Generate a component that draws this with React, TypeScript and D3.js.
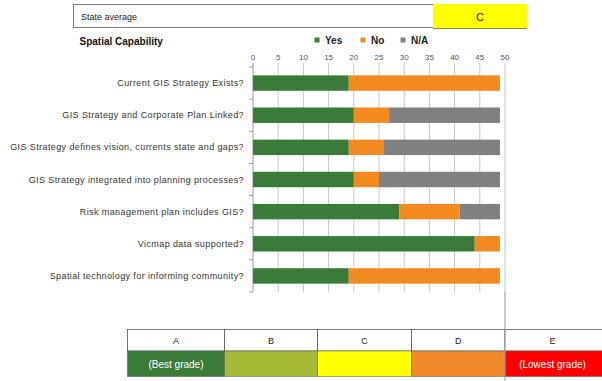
import React from "react";
import * as d3 from "d3";

const categories = [
  "Current GIS Strategy Exists?",
  "GIS Strategy and Corporate Plan Linked?",
  "GIS Strategy defines vision, currents state and gaps?",
  "GIS Strategy integrated into planning processes?",
  "Risk management plan includes GIS?",
  "Vicmap data supported?",
  "Spatial technology for informing community?",
];
const yesValues = [19, 20, 19, 20, 29, 44, 19];
const noValues = [30, 7, 7, 5, 12, 5, 30];
const naValues = [0, 22, 23, 24, 8, 0, 0];
const seriesNames = ["Yes", "No", "N/A"];
const seriesColors = ["#3b7b3a", "#f38a20", "#808080"];
const xTicks = [0, 5, 10, 15, 20, 25, 30, 35, 40, 45, 50];
const grades = ["A", "B", "C", "D", "E"];
const gradeNotes = ["(Best grade)", "", "", "", "(Lowest grade)"];
const gradeColors = ["#3b7b3a", "#a6ba38", "#ffff00", "#f08a2a", "#ff0000"];
const stateAverageLabel = "State average";
const stateAverageGrade = "C";
const chartTitle = "Spatial Capability";

const FONT = "'Liberation Sans', Arial, sans-serif";
const gradeEdges = [127.5, 224.5, 317.5, 411.5, 505, 604];

export default function App() {
  const x = d3.scaleLinear().domain([0, 50]).range([253, 505]);
  const y = d3
    .scaleBand<string>()
    .domain(categories)
    .range([67, 292])
    .paddingInner(0.52)
    .paddingOuter(0.26);
  const rows = categories.map((c, i) => ({ c, v: [yesValues[i], noValues[i], naValues[i]] }));
  const stack = rows.map((r) => {
    let acc = 0;
    return r.v.map((v) => {
      const s = acc;
      acc += v;
      return [s, acc];
    });
  });
  const step = y.step();
  const boundaries = d3.range(categories.length + 1).map((i) => 67 + i * step);

  return (
    <svg
      width={602}
      height={381}
      style={{ position: "absolute", left: 0, top: 0, background: "#fff" }}
      fontFamily={FONT}
    >
      {/* State average box */}
      <rect x={73.5} y={4.5} width={360} height={23} fill="#fff" stroke="#7f7f7f" />
      <rect x={433} y={4} width={94} height={24} fill="#ffff00" />
      <line x1={433} x2={527} y1={28.5} y2={28.5} stroke="#8a8a30" strokeWidth={1} />
      <text x={81} y={19.5} fontSize={9} fill="#222">{stateAverageLabel}</text>
      <text x={480} y={20.5} fontSize={11} textAnchor="middle" fill="#222">{stateAverageGrade}</text>

      {/* Title */}
      <text x={79.5} y={44.5} fontSize={10} fontWeight="bold" fill="#111">{chartTitle}</text>

      {/* Legend */}
      {seriesNames.map((n, i) => {
        const lx = [317, 363, 403][i];
        return (
          <g key={n}>
            <rect x={lx - 2.5} y={37.5} width={5} height={5} fill={seriesColors[i]} />
            <text x={lx + 8} y={44} fontSize={10} fontWeight="bold" fill="#222">{n}</text>
          </g>
        );
      })}

      {/* Grid and ticks */}
      {xTicks.map((t) => (
        <g key={t}>
          <line x1={x(t)} x2={x(t)} y1={63} y2={t === 50 ? 381 : 292} stroke={t === 0 ? "#9a9a9a" : "#c8c8c8"} strokeWidth={1} />
          <text x={x(t)} y={59.5} fontSize={8} textAnchor="middle" fill="#555">{t}</text>
        </g>
      ))}
      {boundaries.map((b, i) => (
        <line key={i} x1={249} x2={253} y1={b} y2={b} stroke="#9a9a9a" />
      ))}

      {/* Bars */}
      {rows.map((r, i) => (
        <g key={r.c}>
          {stack[i].map(([s, e], k) =>
            e > s ? (
              <rect
                key={k}
                x={x(s)}
                y={y(r.c)!}
                width={x(e) - x(s)}
                height={y.bandwidth()}
                fill={seriesColors[k]}
              />
            ) : null
          )}
          <text
            x={244}
            y={y(r.c)! + y.bandwidth() / 2 + 3}
            fontSize={9}
            letterSpacing={0.4}
            textAnchor="end"
            fill="#333"
          >
            {r.c}
          </text>
        </g>
      ))}

      {/* Grade table */}
      {grades.map((g, i) => {
        const gx0 = gradeEdges[i];
        const gw = gradeEdges[i + 1] - gx0;
        return (
          <g key={g}>
            <rect x={gx0} y={329.5} width={gw} height={21.5} fill="#fff" stroke="#555" strokeWidth={0.8} />
            <text x={gx0 + gw / 2 - (i === 4 ? 2 : 0)} y={344} fontSize={9} textAnchor="middle" fill="#222">{g}</text>
            <rect x={gx0} y={351} width={gw} height={25.5} fill={gradeColors[i]} stroke="#555" strokeWidth={0.5} />
            {gradeNotes[i] && (
              <text x={gx0 + gw / 2 - (i === 4 ? 2 : 0)} y={367.5} fontSize={10} textAnchor="middle" fill="#fff">
                {gradeNotes[i]}
              </text>
            )}
          </g>
        );
      })}
      <line x1={505} x2={505} y1={292} y2={381} stroke="#b0b0b0" />
    </svg>
  );
}
